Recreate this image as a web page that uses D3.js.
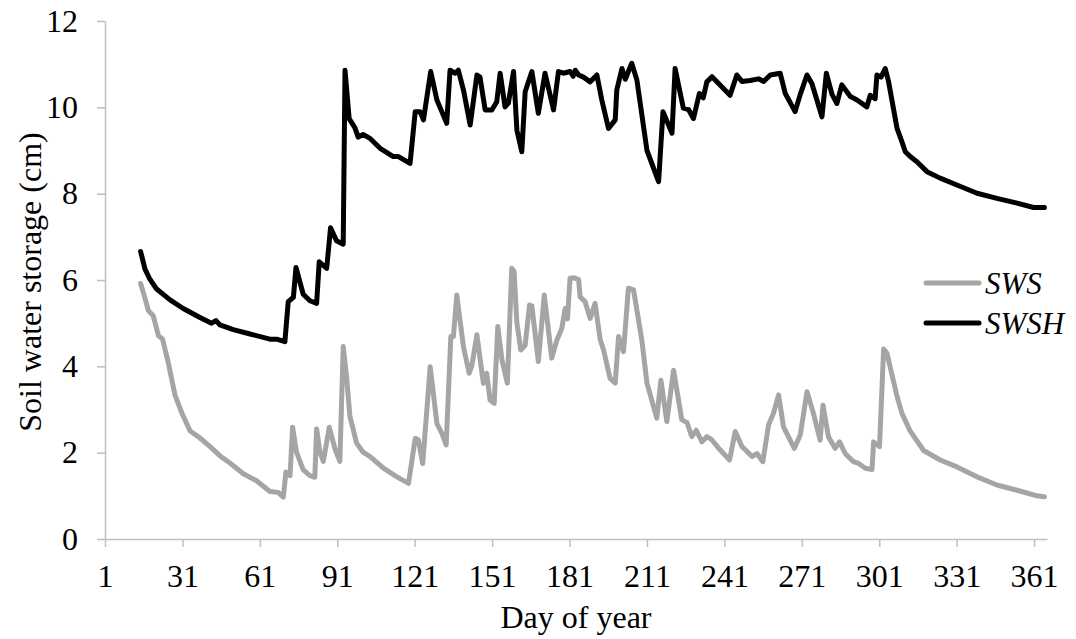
<!DOCTYPE html>
<html>
<head>
<meta charset="utf-8">
<script src="https://cdn.jsdelivr.net/npm/d3@7"></script>
<style>
  body { margin: 0; background: #fff; }
  svg { display: block; font-family: 'Liberation Serif', 'Times New Roman', serif; }
</style>
</head>
<body>
<svg></svg>
<script>
const width = 1076;
const height = 639;

// day of year and soil water storage (cm)
const swsDays = [14.8, 16.5, 17.8, 19.7, 21.7, 23.3, 25.5, 28.1, 30.7, 32.6, 33.9, 37.8, 41.7, 45.5, 49.4, 54.6, 59.7, 64.9, 68.1, 70.1,
  71.1, 72.7, 73.7, 75.2, 77.8, 80.4, 82.3, 83, 84.3, 85.6, 87.9, 90.1, 92, 93.3, 94.6, 95.9, 98.5, 101,
  103.7, 108.9, 114.1, 118.6, 121.2, 122.4, 124.1, 127, 129.6, 131.5, 133.2, 135, 136, 137.3, 139.9, 142.1, 143.1, 145.1,
  147.6, 148.9, 150.2, 151.8, 153.2, 154.8, 156.9, 158.6, 159.5, 160.6, 162.1, 163.8, 165.5, 166.4, 168.9, 171.2, 174.1,
  176.1, 178, 179.3, 180.2, 181.2, 182.8, 184.5, 185.1, 187, 189, 190.9, 192.9, 194.1, 196.7, 198.7, 200, 201.9, 203.8,
  205.8, 209, 211, 214.8, 216.4, 218.7, 221.3, 224.5, 226.5, 228.4, 230.1, 232.3, 234.2, 236.1, 239.4, 243, 245.2, 247.8,
  249.4, 251.7, 253.6, 255.9, 258.1, 260, 262, 263.9, 268.1, 270.4, 273, 275.5, 278.1, 279.2, 281.3, 283.9, 285.6, 287.8,
  291, 293, 295.6, 298.2, 298.8, 301.1, 302.7, 304, 307.9, 309.8, 313, 318.2, 324.6, 331.1, 338.9, 346.6, 354.4, 362.1, 365];
const swsValues = [5.92, 5.58, 5.29, 5.17, 4.71, 4.63, 4.09, 3.34, 2.93, 2.68, 2.51, 2.34, 2.14, 1.93, 1.76, 1.51, 1.35, 1.10, 1.08, 0.97,
  1.55, 1.47, 2.59, 2.01, 1.60, 1.47, 1.43, 2.55, 2.01, 1.80, 2.59, 2.09, 1.80, 4.46, 3.76, 2.84, 2.22, 2.01,
  1.91, 1.64, 1.44, 1.29, 2.33, 2.30, 1.75, 3.99, 2.68, 2.45, 2.18, 4.69, 4.69, 5.65, 4.45, 3.84, 4.0, 4.73,
  3.61, 3.84, 3.22, 3.14, 4.92, 4.15, 3.61, 6.27, 6.2, 5.0, 4.38, 4.49, 5.42, 5.4, 4.11, 5.65, 4.19,
  4.61, 4.88, 5.34, 5.1, 6.04, 6.05, 6.01, 5.61, 5.5, 5.11, 5.46, 4.61, 4.4, 3.72, 3.61, 4.69, 4.34, 5.81,
  5.77, 4.61, 3.61, 2.80, 3.68, 2.72, 3.91, 2.76, 2.7, 2.37, 2.52, 2.25, 2.37, 2.3, 2.06, 1.83, 2.49, 2.14,
  2.05, 1.91, 1.98, 1.79, 2.64, 2.91, 3.34, 2.60, 2.10, 2.41, 3.41, 2.91, 2.29, 3.10, 2.37, 2.10, 2.25, 1.98,
  1.79, 1.75, 1.64, 1.61, 2.25, 2.14, 4.40, 4.3, 3.3, 2.91, 2.5, 2.05, 1.83, 1.67, 1.44, 1.25, 1.13, 1.00, 0.98];

const swshDays = [14.8, 16.5, 18.2, 21, 26.2, 31.3, 37.8, 42.3, 44, 45.5, 50.7, 57.2, 64.9, 67.5, 70.7, 72, 74, 75, 77.8, 80.4,
  83, 84, 86.9, 88.4, 90.7, 93.3, 94, 95.6, 97.8, 99.1, 101,
  103.7, 107.6, 112.7, 114.7, 119.2, 121.2, 123.1, 124.4, 127.2, 129.6, 131.5, 133.4, 134.7, 136.7, 137.9, 139.9, 142.5,
  145.1, 146.3, 148.3, 150.9, 152.8, 154.1, 156, 157.3, 159.3, 160.6, 162.5, 163.8, 166.4, 168.9, 171.5, 174.8, 176.7,
  178.6, 181.2, 182.4, 183.2, 184.5, 186.4, 189, 191.6, 193.5, 196.1, 198.7, 199.3, 201.3, 202.6, 205.1, 207.1, 211,
  215.5, 217.2, 220.7, 221.9, 225.1, 227.1, 229, 231.3, 232.8, 234.2, 236.2, 243.2, 245.8, 247.8, 251, 254.2, 256.2,
  258.8, 262.6, 264.6, 268.4, 270.4, 273, 274.9, 278.8, 280.5, 282.7, 284.6, 286.5, 289.8, 292.4, 296.2, 297.5, 299.4,
  300.1, 301.7, 303.3, 304.6, 307.9, 309.8, 311.1, 313, 315.6, 319.5, 324.6, 331.1, 338.9, 346.6, 354.4, 360.8, 365];
const swshValues = [6.66, 6.25, 6.04, 5.79, 5.54, 5.34, 5.13, 5.00, 5.06, 4.96, 4.85, 4.75, 4.63, 4.63, 4.57, 5.50, 5.60, 6.29, 5.67, 5.52,
  5.46, 6.42, 6.27, 7.21, 6.91, 6.83, 10.86, 9.74, 9.53, 9.31, 9.37,
  9.28, 9.05, 8.86, 8.86, 8.70, 9.90, 9.90, 9.71, 10.83, 10.17, 9.90, 9.63, 10.86, 10.79, 10.86, 10.40, 9.59,
  10.75, 10.7, 9.94, 9.94, 10.13, 10.79, 10.01, 10.1, 10.83, 9.47, 8.97, 10.36, 10.83, 9.86, 10.79, 9.94, 10.83,
  10.79, 10.83, 10.72, 10.86, 10.75, 10.7, 10.59, 10.75, 10.17, 9.51, 9.71, 10.40, 10.90, 10.65, 11.02, 10.63, 9.0,
  8.28, 9.90, 9.40, 10.90, 9.98, 9.95, 9.74, 10.32, 10.22, 10.59, 10.71, 10.28, 10.75, 10.6, 10.62, 10.66, 10.6,
  10.75, 10.79, 10.32, 9.90, 10.3, 10.75, 10.55, 9.78, 10.79, 10.3, 10.09, 10.52, 10.25, 10.17, 10.01, 10.28, 10.2,
  10.75, 10.7, 10.90, 10.6, 9.51, 9.2, 8.97, 8.86, 8.74, 8.51, 8.36, 8.20, 8.01, 7.89, 7.78, 7.68, 7.68];

const dayTicks = [1, 31, 61, 91, 121, 151, 181, 211, 241, 271, 301, 331, 361];
const storageTicks = [0, 2, 4, 6, 8, 10, 12];

const seriesNames = ['SWS', 'SWSH'];
const seriesColors = ['#a5a5a5', '#000000'];

const plot = { left: 105, right: 1047, top: 21, bottom: 539 };
const axisColor = '#bfbfbf';
const fontSize = 32;

const svg = d3.select('svg')
  .attr('width', width)
  .attr('height', height);

const x = d3.scaleLinear()
  .domain([1, 366])
  .range([plot.left, plot.right]);

const y = d3.scaleLinear()
  .domain([0, 12])
  .range([plot.bottom, plot.top]);

// axes
const yAxis = svg.append('g')
  .attr('transform', `translate(${plot.left},0)`)
  .call(d3.axisLeft(y).tickValues(storageTicks).tickSize(8).tickSizeOuter(0).tickPadding(19));

const xAxis = svg.append('g')
  .attr('transform', `translate(0,${plot.bottom})`)
  .call(d3.axisBottom(x).tickValues(dayTicks).tickSize(8).tickSizeOuter(0).tickPadding(17));

[xAxis, yAxis].forEach(axis => {
  axis.selectAll('path, line')
    .attr('stroke', axisColor)
    .attr('stroke-width', 1.5);
  axis.selectAll('text')
    .attr('fill', '#000')
    .style('font-family', "'Liberation Serif', 'Times New Roman', serif")
    .style('font-size', `${fontSize}px`);
});

// lines
const line = d3.line()
  .x(d => x(d[0]))
  .y(d => y(d[1]));

const series = [
  d3.zip(swsDays, swsValues),
  d3.zip(swshDays, swshValues)
];

series.forEach((points, i) => {
  svg.append('path')
    .datum(points)
    .attr('d', line)
    .attr('fill', 'none')
    .attr('stroke', seriesColors[i])
    .attr('stroke-width', 5)
    .attr('stroke-linejoin', 'round')
    .attr('stroke-linecap', 'round');
});

// axis titles
svg.append('text')
  .attr('x', (plot.left + plot.right) / 2)
  .attr('y', 628)
  .attr('text-anchor', 'middle')
  .style('font-size', `${fontSize}px`)
  .text('Day of year');

svg.append('text')
  .attr('transform', `translate(41,${(plot.top + plot.bottom) / 2 + 2}) rotate(-90)`)
  .attr('text-anchor', 'middle')
  .style('font-size', `${fontSize}px`)
  .text('Soil water storage (cm)');

// legend
const legend = svg.append('g')
  .attr('transform', 'translate(926,283)');

seriesNames.forEach((name, i) => {
  const row = legend.append('g')
    .attr('transform', `translate(0,${i * 40})`);
  row.append('line')
    .attr('x1', 0)
    .attr('x2', 53)
    .attr('stroke', seriesColors[i])
    .attr('stroke-width', 5)
    .attr('stroke-linecap', 'round');
  row.append('text')
    .attr('x', 59)
    .attr('y', 11)
    .style('font-size', '31px')
    .style('font-style', 'italic')
    .text(name);
});
</script>
</body>
</html>
